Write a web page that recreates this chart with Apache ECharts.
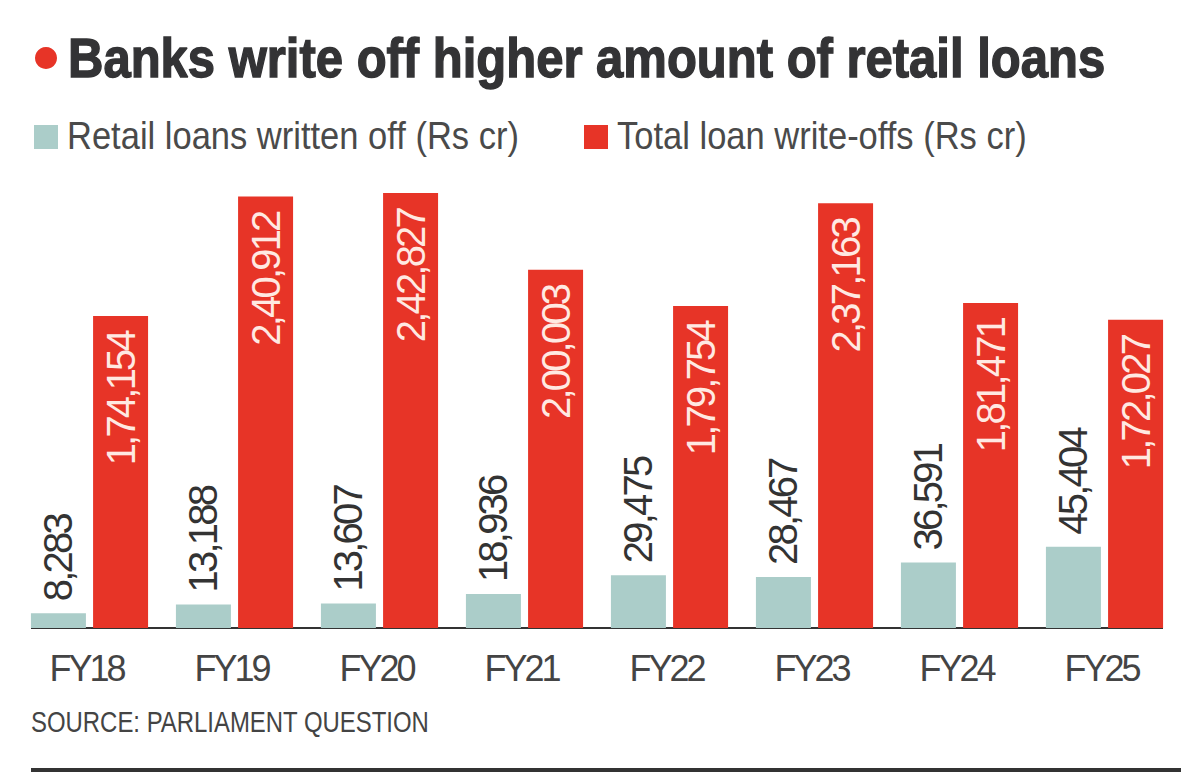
<!DOCTYPE html>
<html><head><meta charset="utf-8">
<style>html,body{margin:0;padding:0;background:#fff}#c{width:1200px;height:772px}
text[style*="40px"]{letter-spacing:-2.8px}
text[style*="36px"]{letter-spacing:-3px}
</style>
<script src="https://cdn.jsdelivr.net/npm/echarts@6/dist/echarts.min.js"></script></head>
<body><div id="c"></div>
<script>
var categories=['FY18','FY19','FY20','FY21','FY22','FY23','FY24','FY25'];
var retail=[8283,13188,13607,18936,29475,28467,36591,45404];
var total=[174154,240912,242827,200003,179754,237163,181471,172027];
var retailLabels=['8,283','13,188','13,607','18,936','29,475','28,467','36,591','45,404'];
var totalLabels=['1,74,154','2,40,912','2,42,827','2,00,003','1,79,754','2,37,163','1,81,471','1,72,027'];
var sans='"Liberation Sans",sans-serif';
var chart=echarts.init(document.getElementById('c'),null,{renderer:'svg'});
chart.setOption({
 animation:false,
 backgroundColor:'#ffffff',
 grid:{left:17,right:23,top:193,bottom:144},
 xAxis:{type:'category',data:categories,
  axisLine:{show:false},axisTick:{show:false},
  axisLabel:{fontFamily:sans,fontSize:36,color:'#444',margin:22,padding:[0,6,0,0]}},
 yAxis:{type:'value',min:0,max:242827,show:false,splitLine:{show:false}},
 series:[
  {name:'Retail loans written off (Rs cr)',type:'bar',data:retail,barWidth:55,barGap:'13%',
   itemStyle:{color:'#abcdc9'},
   label:{show:true,position:'top',rotate:90,align:'left',verticalAlign:'middle',distance:12,
    fontFamily:sans,fontSize:40,color:'#333',
    formatter:function(p){return retailLabels[p.dataIndex];}}},
  {name:'Total loan write-offs (Rs cr)',type:'bar',data:total,barWidth:55,
   itemStyle:{color:'#e73427'},
   label:{show:true,position:'insideTop',rotate:90,align:'right',verticalAlign:'middle',distance:16,
    fontFamily:sans,fontSize:40,color:'#ffe9e2',
    formatter:function(p){return totalLabels[p.dataIndex];}}}
 ],
 graphic:[
  {type:'circle',shape:{cx:46,cy:58,r:11},style:{fill:'#e73427'}},
  {type:'text',x:68,y:57,scaleX:0.875,style:{x:0,y:0,text:'Banks write off higher amount of retail loans',font:'bold 56px "Liberation Sans",sans-serif',fill:'#333335',stroke:'#333335',lineWidth:1.4,verticalAlign:'middle'}},
  {type:'rect',shape:{x:34,y:125,width:24,height:24},style:{fill:'#abcdc9'}},
  {type:'text',x:67,y:136,scaleX:0.885,style:{x:0,y:0,text:'Retail loans written off (Rs cr)',font:'39px "Liberation Sans",sans-serif',fill:'#4a4a4a',verticalAlign:'middle'}},
  {type:'rect',shape:{x:584,y:125,width:24,height:24},style:{fill:'#e73427'}},
  {type:'text',x:617,y:136,scaleX:0.885,style:{x:0,y:0,text:'Total loan write-offs (Rs cr)',font:'39px "Liberation Sans",sans-serif',fill:'#4a4a4a',verticalAlign:'middle'}},
  {type:'text',x:31,y:722,scaleX:0.825,style:{x:0,y:0,text:'SOURCE: PARLIAMENT QUESTION',font:'29px "Liberation Sans",sans-serif',fill:'#444',verticalAlign:'middle'}},
  {type:'rect',shape:{x:31,y:627,width:1132,height:2},style:{fill:'#333'}},
  {type:'rect',shape:{x:31,y:768,width:1150,height:4},style:{fill:'#333'}}
 ]
});
</script></body></html>
